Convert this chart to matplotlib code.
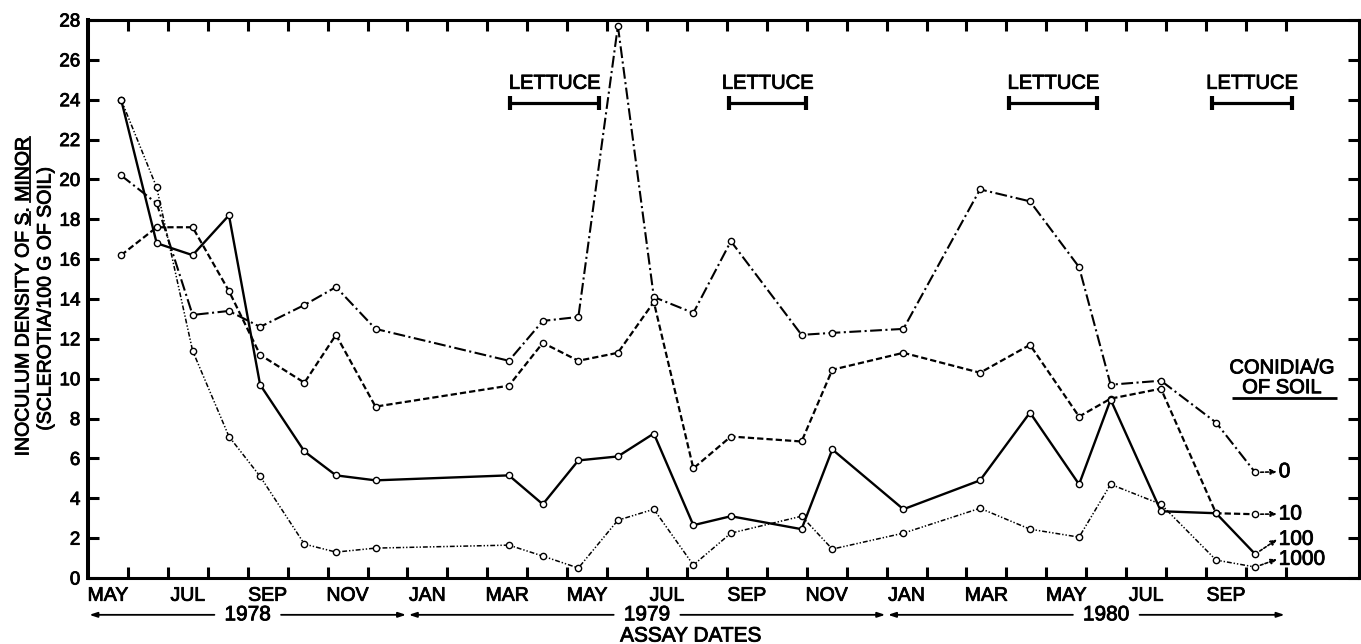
import matplotlib
matplotlib.use("Agg")
import matplotlib.pyplot as plt
import matplotlib.patheffects as pe
from matplotlib.lines import Line2D

plt.rcParams["font.family"] = ["Liberation Sans", "DejaVu Sans"]
plt.rcParams["lines.scale_dashes"] = False

# ── data ──────────────────────────────────────────────────────────────────────
# assay dates in months after 1 May 1978
assay_month = [0.83, 1.72, 2.62, 3.53, 4.31, 5.42, 6.21, 7.2, 10.54, 11.39,
               12.28, 13.27, 14.17, 15.16, 16.1, 17.87, 18.64, 20.42, 22.34,
               23.59, 24.82, 25.61, 26.87, 28.25, 29.23]

# sclerotia / 100 g soil for each conidia/g of soil treatment
dens_0 = [20.2, 18.8, 13.2, 13.4, 12.6, 13.7, 14.6, 12.5, 10.9, 12.9,
          13.1, 27.7, 14.1, 13.3, 16.9, 12.2, 12.3, 12.5, 19.5,
          18.9, 15.6, 9.7, 9.9, 7.8, 5.3]
dens_10 = [16.2, 17.6, 17.6, 14.4, 11.2, 9.8, 12.2, 8.6, 9.65, 11.8,
           10.9, 11.3, 13.85, 5.5, 7.1, 6.85, 10.45, 11.3, 10.3,
           11.7, 8.1, 9.0, 9.5, 3.25, 3.2]
dens_100 = [24.0, 16.8, 16.2, 18.2, 9.7, 6.35, 5.15, 4.9, 5.15, 3.7,
            5.9, 6.1, 7.25, 2.65, 3.1, 2.45, 6.45, 3.45, 4.9,
            8.3, 4.7, 8.95, 3.35, 3.25, 1.2]
dens_1000 = [24.0, 19.6, 11.4, 7.1, 5.1, 1.7, 1.3, 1.5, 1.65, 1.1,
             0.5, 2.9, 3.45, 0.65, 2.25, 3.1, 1.45, 2.25, 3.5,
             2.45, 2.05, 4.7, 3.7, 0.9, 0.55]

conidia_levels = ["0", "10", "100", "1000"]
level_label_y = [5.33, 3.21, 1.94, 0.94]

month_names = ["MAY", "JUL", "SEP", "NOV", "JAN", "MAR", "MAY", "JUL",
               "SEP", "NOV", "JAN", "MAR", "MAY", "JUL", "SEP"]
month_label_pos = [0.5, 2.5, 4.5, 6.5, 8.5, 10.5, 12.5, 14.5,
                   16.5, 18.5, 20.5, 22.5, 24.5, 26.5, 28.5]

years = ["1978", "1979", "1980"]
year_start = [0, 8, 20]
year_end = [8, 20, 30]
year_label_pos = [4.0, 14.0, 25.5]

lettuce_start = [10.57, 16.06, 23.07, 28.14]
lettuce_end = [12.8, 17.98, 25.28, 30.16]

# slightly heavier lettering, like the original drawing
BOLDER = [pe.withStroke(linewidth=0.6, foreground="black")]
YEAR_GAP = 0.8   # half gap (months) left open in the year arrows for the label

# ── figure ────────────────────────────────────────────────────────────────────
fig = plt.figure(figsize=(13.61, 6.44), dpi=100)
ax = fig.add_axes([88 / 1361, 66 / 644, 1271 / 1361, 558 / 644])
ax.set_xlim(0, 31.83)
ax.set_ylim(0, 28)

styles = {
    "0":    dict(dashes=(8.5, 2.5, 1.5, 2.5), lw=1.5),
    "10":   dict(dashes=(4.5, 2.2), lw=1.6),
    "100":  dict(linestyle="-", lw=1.7),
    "1000": dict(dashes=(3.5, 1.4, 1.0, 1.4, 1.0, 1.4), lw=1.1),
}
series = [dens_0, dens_10, dens_100, dens_1000]

for lvl, vals, ly in zip(conidia_levels, series, level_label_y):
    ax.plot(assay_month, vals, color="black", marker="o", ms=4.5, mew=1.0,
            mfc="white", mec="black", **styles[lvl])
    ax.annotate("", xy=(29.78, ly), xytext=(assay_month[-1], vals[-1]),
                arrowprops=dict(arrowstyle="-|>,head_length=0.35,head_width=0.15",
                                color="black", lw=1.2, linestyle=(0, (2, 1.5)),
                                shrinkA=4, shrinkB=0))
    ax.text(29.82, ly, lvl, ha="left", va="center", fontsize=15, path_effects=BOLDER)

ax.text(29.9, 10.54, "CONIDIA/G", ha="center", va="center", fontsize=14.5,
        path_effects=BOLDER)
ax.text(29.9, 9.55, "OF SOIL", ha="center", va="center", fontsize=14.5,
        path_effects=BOLDER)
ax.hlines(9.03, 28.65, 31.28, color="black", lw=2)

# lettuce crops
for x0, x1 in zip(lettuce_start, lettuce_end):
    ax.hlines(23.85, x0, x1, color="black", lw=2.3)
    ax.vlines([x0, x1], 23.5, 24.2, color="black", lw=3)
    ax.text((x0 + x1) / 2, 24.35, "LETTUCE", ha="center", va="bottom",
            fontsize=14.5, path_effects=BOLDER)

# axes styling
for side in ["top", "bottom", "right"]:
    ax.spines[side].set_linewidth(2.2)
ax.spines["left"].set_linewidth(2.9)

ax.set_yticks(range(0, 29, 2))
ax.tick_params(axis="y", direction="in", length=8, width=2.2, right=True,
               labelsize=13.5, pad=5.5)
ax.set_xticks(range(1, 31))
ax.set_xticklabels([])
ax.set_xticks(month_label_pos, minor=True)
ax.set_xticklabels(month_names, minor=True)
ax.tick_params(axis="x", which="major", direction="in", length=8, width=2.2, top=True)
ax.tick_params(axis="x", which="minor", length=0, labelsize=14, pad=7)
for lab in ax.get_yticklabels() + ax.get_xticklabels(minor=True):
    lab.set_path_effects(BOLDER)

# year spans and axis title under the months
trans = ax.get_xaxis_transform()
arrow_kw = dict(color="black", lw=1.3, shrinkA=1, shrinkB=1)
for yr, x0, x1, xc in zip(years, year_start, year_end, year_label_pos):
    ax.annotate("", xy=(x0, -0.066), xytext=(xc - YEAR_GAP, -0.066), xycoords=trans,
                textcoords=trans, annotation_clip=False,
                arrowprops=dict(arrowstyle="-|>,head_length=0.45,head_width=0.15",
                                **arrow_kw))
    ax.annotate("", xy=(x1, -0.066), xytext=(xc + YEAR_GAP, -0.066), xycoords=trans,
                textcoords=trans, annotation_clip=False,
                arrowprops=dict(arrowstyle="-|>,head_length=0.45,head_width=0.15",
                                **arrow_kw))
    ax.text(xc, -0.066, yr, transform=trans, ha="center", va="center", fontsize=15,
            path_effects=BOLDER)
ax.text(15.1, -0.104, "ASSAY DATES", transform=trans, ha="center", va="center",
        fontsize=15, path_effects=BOLDER)

# y label, two rotated lines with underlined species name
line1 = "INOCULUM DENSITY OF S. MINOR"
t1 = fig.text(24 / 1361, 347.5 / 644, line1, rotation=90, ha="center",
              va="center", fontsize=14, path_effects=BOLDER)
fig.text(46 / 1361, 345.5 / 644, "(SCLEROTIA/100 G OF SOIL)", rotation=90,
         ha="center", va="center", fontsize=14, path_effects=BOLDER)

fig.canvas.draw()
rend = fig.canvas.get_renderer()


def text_width(s):
    t = fig.text(0, 0, s, fontproperties=t1.get_fontproperties())
    w = t.get_window_extent(rend).width
    t.remove()
    return w


bb = t1.get_window_extent(rend)
scale = bb.height / text_width(line1)
ux = (bb.x1 - 2.5) / 1361
pre = text_width("INOCULUM DENSITY OF S")
spans = [(pre - text_width("S"), pre),
         (text_width(line1) - text_width("MINOR"), text_width(line1))]
for a, b in spans:
    fig.add_artist(Line2D([ux, ux], [(bb.y0 + a * scale) / 644, (bb.y0 + b * scale) / 644],
                          transform=fig.transFigure, color="black", lw=1.3))

fig.savefig("out.png", dpi=100, facecolor="white")
